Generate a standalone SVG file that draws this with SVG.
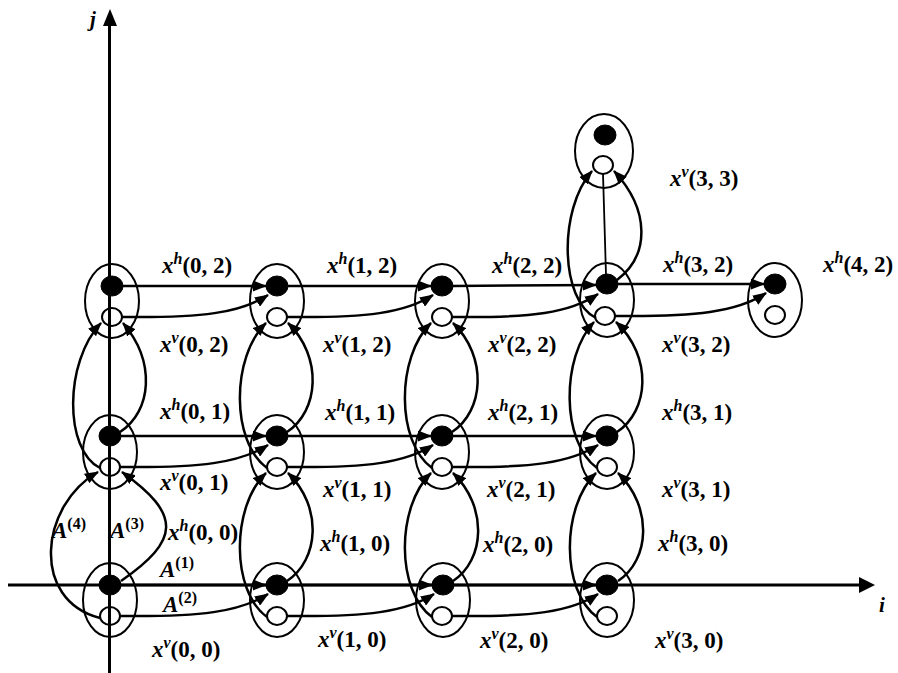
<svg xmlns="http://www.w3.org/2000/svg" width="898" height="673" viewBox="0 0 898 673">
  <defs>
    <marker id="ah" viewBox="0 0 14 11" refX="13" refY="5.5" markerWidth="14" markerHeight="11" markerUnits="userSpaceOnUse" orient="auto">
      <path d="M0,0 L14,5.5 L0,11 z" fill="#000"/>
    </marker>
    <style>
      .o { fill: none; stroke: #000; stroke-width: 2; }
      .b { fill: #000; stroke: #000; stroke-width: 1; }
      .w { fill: none; stroke: #000; stroke-width: 2; }
      .e { fill: none; stroke: #000; stroke-width: 2.5; marker-end: url(#ah); }
      .ax { fill: none; stroke: #000; stroke-width: 3; }
      .thin { fill: none; stroke: #000; stroke-width: 1.8; }
      .t { font-family: "Liberation Serif", "Times New Roman", serif; font-weight: bold; font-size: 23px; fill: #000; }
      .i { font-style: italic; }
      .s { font-size: 16px; }
      .ax-l { font-family: "Liberation Serif", "Times New Roman", serif; font-style: italic; font-weight: bold; font-size: 21px; fill: #000; }
    </style>
  </defs>

  <!-- axes -->
  <g id="axes">
    <line class="ax" x1="109.5" y1="24" x2="109.5" y2="673"/>
    <polygon points="110,9 103,26 117,26" fill="#000"/>
    <line class="ax" x1="8" y1="585" x2="861" y2="585"/>
    <polygon points="875,585 859,577 859,593" fill="#000"/>
    <text class="ax-l" x="90" y="26">j</text>
    <text class="ax-l" x="879" y="612">i</text>
  </g>

  <!-- nodes: outer ellipse, filled (h) dot, open (v) dot -->
  <g id="n00"><ellipse class="o" cx="110" cy="600" rx="27" ry="37"/><ellipse class="b" cx="110" cy="585" rx="11" ry="10"/><ellipse class="w" cx="110" cy="616" rx="10" ry="9"/></g>
  <g id="n10"><ellipse class="o" cx="277" cy="600" rx="27" ry="37"/><ellipse class="b" cx="277" cy="585" rx="11" ry="10"/><ellipse class="w" cx="277" cy="616" rx="10" ry="9"/></g>
  <g id="n20"><ellipse class="o" cx="443" cy="600" rx="27" ry="37"/><ellipse class="b" cx="443" cy="585" rx="11" ry="10"/><ellipse class="w" cx="442" cy="616" rx="10" ry="9"/></g>
  <g id="n30"><ellipse class="o" cx="607" cy="600" rx="27" ry="37"/><ellipse class="b" cx="607" cy="585" rx="11" ry="10"/><ellipse class="w" cx="607" cy="616" rx="10" ry="9"/></g>

  <g id="n01"><ellipse class="o" cx="110" cy="452" rx="27" ry="37"/><ellipse class="b" cx="110" cy="436" rx="11" ry="10"/><ellipse class="w" cx="110" cy="467" rx="10" ry="9"/></g>
  <g id="n11"><ellipse class="o" cx="277" cy="452" rx="27" ry="37"/><ellipse class="b" cx="277" cy="436" rx="11" ry="10"/><ellipse class="w" cx="277" cy="467" rx="10" ry="9"/></g>
  <g id="n21"><ellipse class="o" cx="442" cy="452" rx="27" ry="37"/><ellipse class="b" cx="442" cy="436" rx="11" ry="10"/><ellipse class="w" cx="442" cy="467" rx="10" ry="9"/></g>
  <g id="n31"><ellipse class="o" cx="607" cy="452" rx="27" ry="37"/><ellipse class="b" cx="607" cy="436" rx="11" ry="10"/><ellipse class="w" cx="607" cy="467" rx="10" ry="9"/></g>

  <g id="n02"><ellipse class="o" cx="112" cy="301" rx="27" ry="37"/><ellipse class="b" cx="112" cy="286" rx="11" ry="10"/><ellipse class="w" cx="112" cy="317" rx="10" ry="9"/></g>
  <g id="n12"><ellipse class="o" cx="277" cy="301" rx="27" ry="37"/><ellipse class="b" cx="277" cy="286" rx="11" ry="10"/><ellipse class="w" cx="277" cy="317" rx="10" ry="9"/></g>
  <g id="n22"><ellipse class="o" cx="442" cy="301" rx="27" ry="37"/><ellipse class="b" cx="442" cy="286" rx="11" ry="10"/><ellipse class="w" cx="442" cy="317" rx="10" ry="9"/></g>
  <g id="n32"><ellipse class="o" cx="607" cy="300" rx="27" ry="37"/><ellipse class="b" cx="607" cy="284" rx="11" ry="10"/><ellipse class="w" cx="605" cy="316" rx="10" ry="9"/></g>
  <g id="n42"><ellipse class="o" cx="775" cy="300" rx="27" ry="37"/><ellipse class="b" cx="775" cy="284" rx="11" ry="10"/><ellipse class="w" cx="775" cy="315" rx="10" ry="9"/></g>

  <g id="n33"><ellipse class="o" cx="604" cy="151" rx="29" ry="37"/><ellipse class="b" cx="605" cy="135" rx="11" ry="10"/><ellipse class="w" cx="603" cy="165" rx="10" ry="9"/></g>

  <!-- connectors -->
  <g id="edges">
    <!-- horizontal: filled dot to next filled dot -->
    <path class="e" d="M121,585 L266,585"/>
    <path class="e" d="M288,585 L432,585"/>
    <path class="e" d="M454,585 L596,585"/>
    <path class="e" d="M121,436 L266,436"/>
    <path class="e" d="M288,436 L431,436"/>
    <path class="e" d="M453,436 L596,436"/>
    <path class="e" d="M123,286 L266,286"/>
    <path class="e" d="M288,286 L431,286"/>
    <path class="e" d="M453,286 L596,285"/>
    <path class="e" d="M618,284 L764,284"/>

    <!-- horizontal: open dot to next filled dot -->
    <path class="e" d="M120,616 C200,617 240,612 268,594"/>
    <path class="e" d="M287,616 C367,617 406,612 434,594"/>
    <path class="e" d="M452,616 C532,617 571,612 598,594"/>
    <path class="e" d="M120,467 C200,468 240,463 268,445"/>
    <path class="e" d="M287,467 C367,468 405,463 433,445"/>
    <path class="e" d="M452,467 C532,468 570,463 598,445"/>
    <path class="e" d="M122,317 C202,318 240,313 268,295"/>
    <path class="e" d="M287,317 C367,318 405,313 433,295"/>
    <path class="e" d="M452,317 C532,318 570,313 598,294"/>
    <path class="e" d="M615,316 C695,317 738,312 766,293"/>

    <!-- vertical loops, column 0 -->
    <path class="e" d="M100,618 C30,600 40,505 98,472"/>
    <path class="e" d="M121,581 C180,540 182,515 122,472"/>
    <path class="e" d="M100,468 C64,450 64,362 101,323"/>
    <path class="e" d="M120,432 C152,411 156,362 123,323"/>

    <!-- vertical loops, column 1 -->
    <path class="e" d="M267,617 C231,591 231,507 266,473"/>
    <path class="e" d="M287,581 C319,560 323,507 288,473"/>
    <path class="e" d="M267,468 C231,442 231,357 266,323"/>
    <path class="e" d="M287,432 C319,411 323,357 288,323"/>

    <!-- vertical loops, column 2 -->
    <path class="e" d="M432,617 C396,591 396,507 431,473"/>
    <path class="e" d="M453,581 C485,560 488,507 453,473"/>
    <path class="e" d="M432,468 C396,442 396,357 431,323"/>
    <path class="e" d="M452,432 C484,411 488,357 453,323"/>

    <!-- vertical loops, column 3 -->
    <path class="e" d="M597,617 C561,591 561,507 596,473"/>
    <path class="e" d="M618,581 C650,560 653,507 618,473"/>
    <path class="e" d="M597,468 C561,442 561,357 594,322"/>
    <path class="e" d="M617,432 C649,411 653,357 616,322"/>
    <path class="e" d="M596,318 C560,300 558,210 592,171"/>
    <path class="e" d="M617,280 C650,255 650,210 614,171"/>
    <line class="thin" x1="603" y1="174" x2="606" y2="275"/>
  </g>

  <!-- labels -->
  <g id="labels">
    <text class="t" x="162" y="273"><tspan class="i">x</tspan><tspan class="s i" dy="-9">h</tspan><tspan dy="9">(0, 2)</tspan></text>
    <text class="t" x="327" y="273"><tspan class="i">x</tspan><tspan class="s i" dy="-9">h</tspan><tspan dy="9">(1, 2)</tspan></text>
    <text class="t" x="492" y="273"><tspan class="i">x</tspan><tspan class="s i" dy="-9">h</tspan><tspan dy="9">(2, 2)</tspan></text>
    <text class="t" x="663" y="272"><tspan class="i">x</tspan><tspan class="s i" dy="-9">h</tspan><tspan dy="9">(3, 2)</tspan></text>
    <text class="t" x="823" y="272"><tspan class="i">x</tspan><tspan class="s i" dy="-9">h</tspan><tspan dy="9">(4, 2)</tspan></text>
    <text class="t" x="670" y="186"><tspan class="i">x</tspan><tspan class="s i" dy="-9">v</tspan><tspan dy="9">(3, 3)</tspan></text>

    <text class="t" x="160" y="352"><tspan class="i">x</tspan><tspan class="s i" dy="-9">v</tspan><tspan dy="9">(0, 2)</tspan></text>
    <text class="t" x="323" y="352"><tspan class="i">x</tspan><tspan class="s i" dy="-9">v</tspan><tspan dy="9">(1, 2)</tspan></text>
    <text class="t" x="488" y="352"><tspan class="i">x</tspan><tspan class="s i" dy="-9">v</tspan><tspan dy="9">(2, 2)</tspan></text>
    <text class="t" x="662" y="352"><tspan class="i">x</tspan><tspan class="s i" dy="-9">v</tspan><tspan dy="9">(3, 2)</tspan></text>

    <text class="t" x="160" y="419"><tspan class="i">x</tspan><tspan class="s i" dy="-9">h</tspan><tspan dy="9">(0, 1)</tspan></text>
    <text class="t" x="325" y="420"><tspan class="i">x</tspan><tspan class="s i" dy="-9">h</tspan><tspan dy="9">(1, 1)</tspan></text>
    <text class="t" x="488" y="420"><tspan class="i">x</tspan><tspan class="s i" dy="-9">h</tspan><tspan dy="9">(2, 1)</tspan></text>
    <text class="t" x="662" y="420"><tspan class="i">x</tspan><tspan class="s i" dy="-9">h</tspan><tspan dy="9">(3, 1)</tspan></text>

    <text class="t" x="160" y="490"><tspan class="i">x</tspan><tspan class="s i" dy="-9">v</tspan><tspan dy="9">(0, 1)</tspan></text>
    <text class="t" x="323" y="497"><tspan class="i">x</tspan><tspan class="s i" dy="-9">v</tspan><tspan dy="9">(1, 1)</tspan></text>
    <text class="t" x="487" y="497"><tspan class="i">x</tspan><tspan class="s i" dy="-9">v</tspan><tspan dy="9">(2, 1)</tspan></text>
    <text class="t" x="662" y="497"><tspan class="i">x</tspan><tspan class="s i" dy="-9">v</tspan><tspan dy="9">(3, 1)</tspan></text>

    <text class="t" x="168" y="540"><tspan class="i">x</tspan><tspan class="s i" dy="-9">h</tspan><tspan dy="9">(0, 0)</tspan></text>
    <text class="t" x="320" y="551"><tspan class="i">x</tspan><tspan class="s i" dy="-9">h</tspan><tspan dy="9">(1, 0)</tspan></text>
    <text class="t" x="483" y="552"><tspan class="i">x</tspan><tspan class="s i" dy="-9">h</tspan><tspan dy="9">(2, 0)</tspan></text>
    <text class="t" x="658" y="551"><tspan class="i">x</tspan><tspan class="s i" dy="-9">h</tspan><tspan dy="9">(3, 0)</tspan></text>

    <text class="t" x="152" y="657"><tspan class="i">x</tspan><tspan class="s i" dy="-9">v</tspan><tspan dy="9">(0, 0)</tspan></text>
    <text class="t" x="318" y="647"><tspan class="i">x</tspan><tspan class="s i" dy="-9">v</tspan><tspan dy="9">(1, 0)</tspan></text>
    <text class="t" x="480" y="648"><tspan class="i">x</tspan><tspan class="s i" dy="-9">v</tspan><tspan dy="9">(2, 0)</tspan></text>
    <text class="t" x="655" y="648"><tspan class="i">x</tspan><tspan class="s i" dy="-9">v</tspan><tspan dy="9">(3, 0)</tspan></text>

    <text class="t" x="52" y="538"><tspan class="i">A</tspan><tspan class="s" dy="-9">(4)</tspan></text>
    <text class="t" x="110" y="538"><tspan class="i">A</tspan><tspan class="s" dy="-9">(3)</tspan></text>
    <text class="t" x="160" y="577"><tspan class="i">A</tspan><tspan class="s" dy="-9">(1)</tspan></text>
    <text class="t" x="163" y="612"><tspan class="i">A</tspan><tspan class="s" dy="-9">(2)</tspan></text>
  </g>
</svg>
